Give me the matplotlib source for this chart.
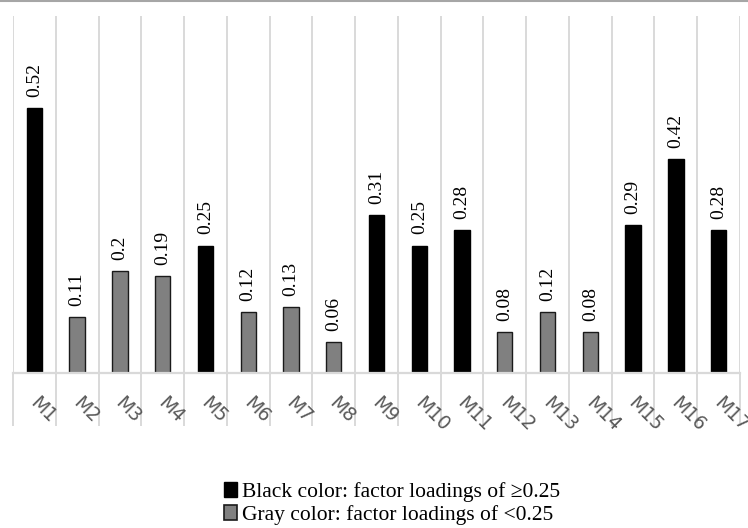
import matplotlib
matplotlib.use("Agg")
import matplotlib.pyplot as plt
from matplotlib.patches import Patch
from matplotlib.lines import Line2D
import numpy as np

categories = ["M1", "M2", "M3", "M4", "M5", "M6", "M7", "M8", "M9", "M10",
              "M11", "M12", "M13", "M14", "M15", "M16", "M17"]
values = [0.52, 0.11, 0.2, 0.19, 0.25, 0.12, 0.13, 0.06, 0.31, 0.25,
          0.28, 0.08, 0.12, 0.08, 0.29, 0.42, 0.28]
value_labels = ["0.52", "0.11", "0.2", "0.19", "0.25", "0.12", "0.13", "0.06", "0.31",
                "0.25", "0.28", "0.08", "0.12", "0.08", "0.29", "0.42", "0.28"]
threshold = 0.25
legend_labels = ["Black color: factor loadings of \u22650.25",
                 "Gray color: factor loadings of <0.25"]

W, H = 748, 528
fig = plt.figure(figsize=(W / 100, H / 100), dpi=100)
ax = fig.add_axes([13 / W, 155 / H, (740 - 13) / W, (373 - 16) / H])

x = np.arange(len(categories))
colors = ["#000000" if v >= threshold else "#808080" for v in values]
edges = ["#000000" if v >= threshold else "#1a1a1a" for v in values]
ax.bar(x, values, width=0.36, color=colors, edgecolor=edges, linewidth=1.0, zorder=2)

for xi, v, lab in zip(x, values, value_labels):
    ax.annotate(lab, (xi, v), xytext=(0, 8), textcoords="offset points",
                rotation=90, ha="center", va="bottom",
                fontsize=14, family="Liberation Serif", color="#000000")

ax.set_xlim(-0.5, len(categories) - 0.5)
ax.set_ylim(0, 0.7)
ax.set_yticks([])
for s in ["left", "right", "top"]:
    ax.spines[s].set_visible(False)
ax.spines["bottom"].set_color("#d9d9d9")
ax.spines["bottom"].set_linewidth(1.6)
ax.spines["bottom"].set_zorder(3)

ax.set_xticks(x)
ax.set_xticklabels([])
ax.tick_params(axis="x", which="major", length=0)
ax.set_xticks(np.arange(-0.5, len(categories)), minor=True)
ax.tick_params(axis="x", which="minor", length=38, width=1.4, color="#d9d9d9", direction="out")
ax.grid(axis="x", which="minor", color="#d9d9d9", linewidth=1.4, zorder=0)

trans = matplotlib.transforms.blended_transform_factory(ax.transData, ax.transAxes)
for xi, c in zip(x, categories):
    ax.text(xi + 0.12, -0.058, c, transform=trans, rotation=-45, rotation_mode="anchor",
            ha="left", va="top", fontsize=13.5, family="DejaVu Sans", color="#595959")

fig.add_artist(Line2D([0, 1], [1 - 1 / H, 1 - 1 / H], transform=fig.transFigure,
                      color="#a6a6a6", linewidth=1.5))

handles = [Patch(facecolor="#000000", edgecolor="#000000"),
           Patch(facecolor="#808080", edgecolor="#1a1a1a", linewidth=1.2)]
fig.legend(handles, legend_labels, loc="upper left",
           bbox_to_anchor=(224 / W, 1 - 482 / H), frameon=False,
           prop={"family": "Liberation Serif", "size": 15.5},
           handlelength=0.6, handleheight=0.7, handletextpad=0.25,
           labelspacing=0.15, borderaxespad=0, borderpad=0)

fig.savefig("out.png", dpi=100)
